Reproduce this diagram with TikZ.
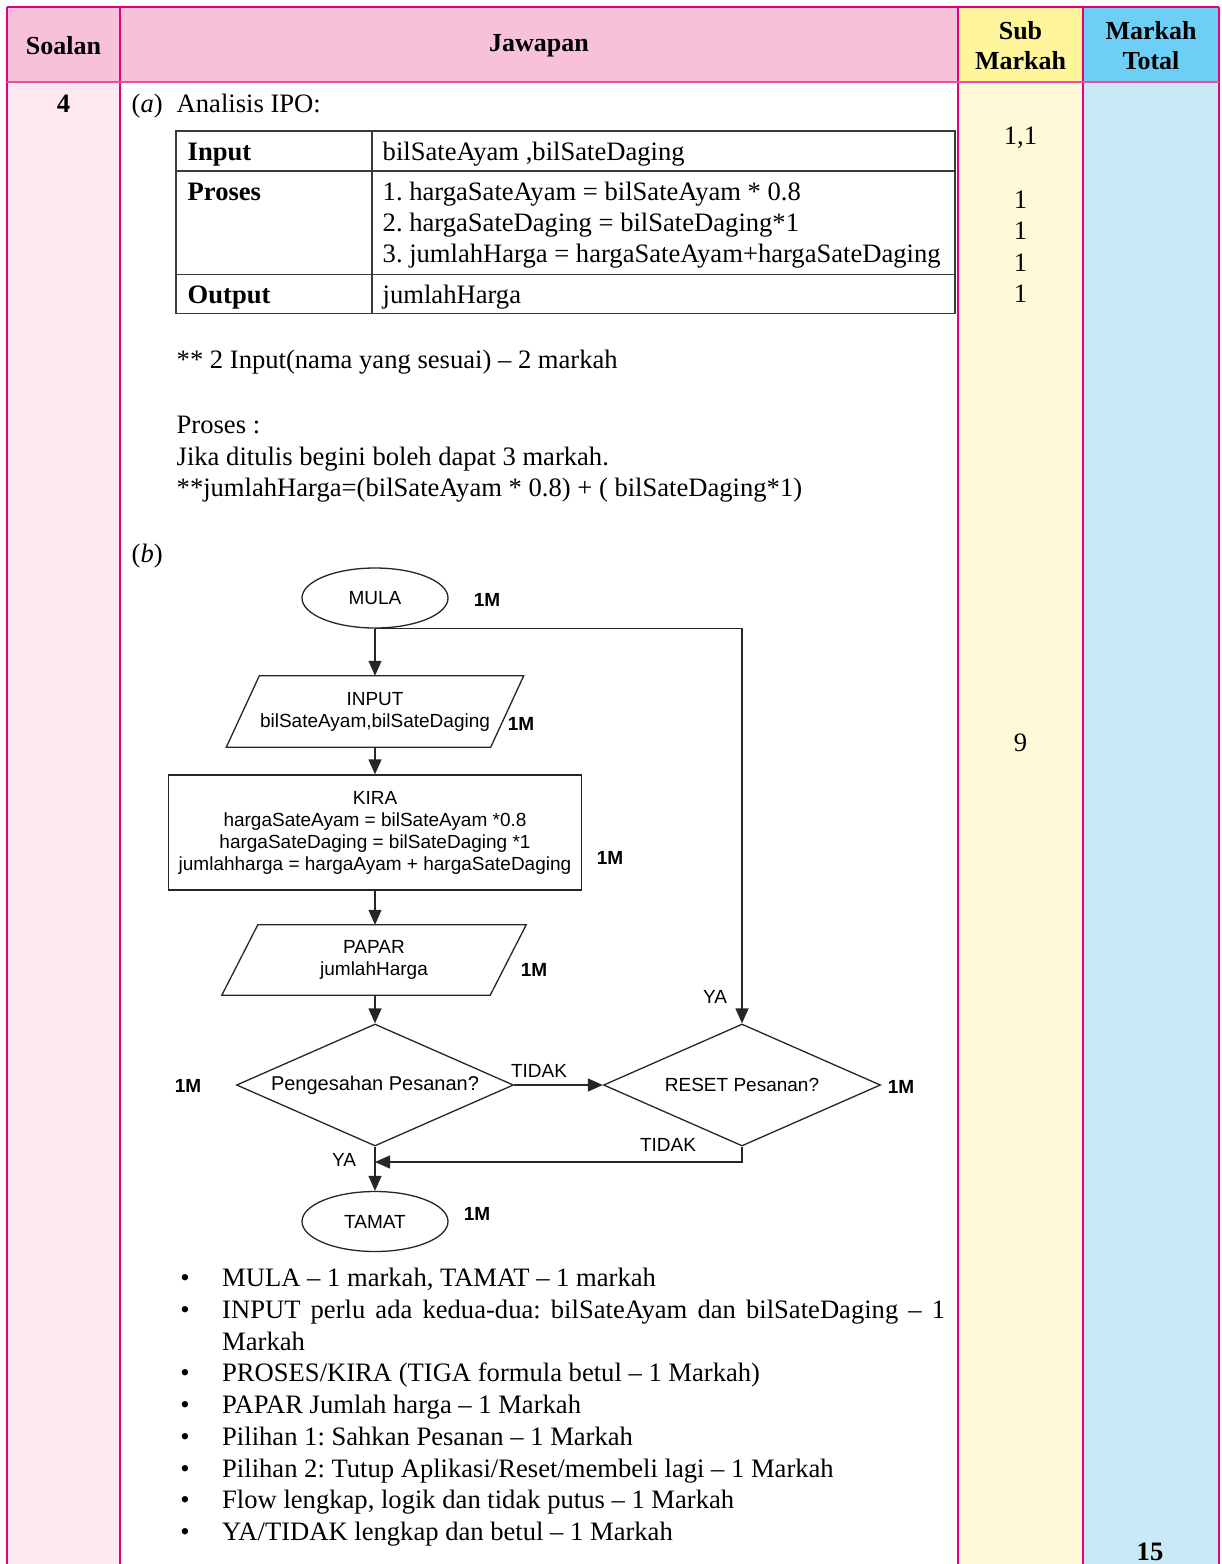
\documentclass[tikz,border=0pt]{standalone}
\usepackage{fontspec}
\setmainfont{Liberation Serif}
\setsansfont{Liberation Sans}
\usetikzlibrary{arrows.meta,shapes.geometric}
\frenchspacing
\definecolor{hpink}{HTML}{F7C1D9}
\definecolor{bpink}{HTML}{FDE7F0}
\definecolor{hyel}{HTML}{FFF69B}
\definecolor{byel}{HTML}{FFF9D9}
\definecolor{hblue}{HTML}{6ECFF6}
\definecolor{bblue}{HTML}{C9E9F8}
\definecolor{mag}{HTML}{E4007F}
\definecolor{mag2}{HTML}{EC4F9F}
\definecolor{tline}{HTML}{3A3A3A}
\begin{document}
\frenchspacing
\begin{tikzpicture}[x=1pt,y=-1pt,
  tx/.style={font=\fontsize{26.6}{31}\selectfont, inner sep=0pt, anchor=base west},
  txb/.style={font=\fontsize{26.6}{31}\selectfont\bfseries, inner sep=0pt, anchor=base west},
  txc/.style={font=\fontsize{26.6}{31}\selectfont, inner sep=0pt, anchor=base},
  hd/.style={font=\fontsize{26}{30}\selectfont\bfseries, align=center, inner sep=0pt},
  fl/.style={line width=1.3pt, draw=black!85},
  arr/.style={fl, -{Triangle[length=15pt,width=13pt]}},
  fct/.style={font=\sffamily\fontsize{19}{22}\selectfont},
  lbl/.style={font=\sffamily\fontsize{19}{22}\selectfont, inner sep=0pt, text height=13.6pt, text depth=0pt},
  mk/.style={font=\sffamily\bfseries\fontsize{19}{22}\selectfont, inner sep=0pt, text height=13.6pt, text depth=0pt},
  grid/.style={line width=1.2pt, draw=mag},
  ipo/.style={line width=1.2pt, draw=tline}
]
\useasboundingbox (0,0) rectangle (1222,1564);
% ---------- backgrounds ----------
\fill[hpink] (7,7) rectangle (958,82);
\fill[hyel] (958,7) rectangle (1083,82);
\fill[hblue] (1083,7) rectangle (1219,82);
\fill[bpink] (7,82) rectangle (120,1564);
\fill[white] (120,82) rectangle (958,1564);
\fill[byel] (958,82) rectangle (1083,1564);
\fill[bblue] (1083,82) rectangle (1219,1564);
% ---------- grid ----------
\draw[grid] (7,7) -- (1219,7);
\foreach \xx in {7,120,958,1083,1219} \draw[grid] (\xx,7) -- (\xx,1564);
\draw[line width=2.6pt, draw=mag2] (7,82) -- (1219,82);
% ---------- header ----------
\node[hd] (hsoal) at (63.5,46) {Soalan};
\node[hd] (hjaw) at (539,46) {Jawapan};
\node[hd] (hsub) at (1020.5,46) {Sub\\Markah};
\node[hd] (htot) at (1151,46) {Markah\\Total};
% ---------- part a ----------
\node[txc, font=\fontsize{26.6}{31}\selectfont\bfseries] (q4) at (63.5,112) {4};
\node[tx] (pa) at (131.5,112) {(\textit{a})};
\node[tx] (pat) at (176.5,112) {Analisis IPO:};
% IPO table
\draw[ipo] (176,131) rectangle (955,313.5);
\draw[ipo] (176,171) -- (955,171);
\draw[ipo] (176,274.5) -- (955,274.5);
\draw[ipo] (372,131) -- (372,313.5);
\node[txb] (ti) at (187.5,160) {Input};
\node[tx] (tiv) at (382.5,160) {bilSateAyam ,bilSateDaging};
\node[txb] (tp) at (187.5,200) {Proses};
\node[tx] (tp1) at (382.5,200) {1. hargaSateAyam = bilSateAyam * 0.8};
\node[tx] (tp2) at (382.5,231) {2. hargaSateDaging = bilSateDaging*1};
\node[tx] (tp3) at (382.5,262) {3. jumlahHarga = hargaSateAyam+hargaSateDaging};
\node[txb] (to) at (187.5,303.3) {Output};
\node[tx] (tov) at (382.5,303.3) {jumlahHarga};
\node[tx] (n1) at (176.5,368) {** 2 Input(nama yang sesuai) – 2 markah};
\node[tx] (n2) at (176.5,433.5) {Proses :};
\node[tx] (n3) at (176.5,465.5) {Jika ditulis begini boleh dapat 3 markah.};
\node[tx] (n4) at (176.5,496.5) {**jumlahHarga=(bilSateAyam * 0.8) + ( bilSateDaging*1)};
% sub markah
\node[txc] (s1) at (1020.5,144) {1,1};
\node[txc] (s2) at (1020.5,208.3) {1};
\node[txc] (s3) at (1020.5,239.3) {1};
\node[txc] (s4) at (1020.5,271.7) {1};
\node[txc] (s5) at (1020.5,302.7) {1};
\node[txc] (s9) at (1020.5,751.5) {9};
\node[txc, font=\fontsize{26.6}{31}\selectfont\bfseries] (tot) at (1150,1560) {15};
% ---------- part b ----------
\node[tx] (pb) at (131.5,562) {(\textit{b})};
% flowchart
\node[fl, draw, ellipse, minimum width=146pt, minimum height=60pt, inner sep=0pt, fct] (mula) at (375,598) {MULA};
\node[fct, minimum width=264pt, minimum height=71pt, align=center, inner sep=0pt] (inp) at (375,711.5) {INPUT\\bilSateAyam,bilSateDaging};
\draw[fl] ([xshift=16.5pt]inp.north west) -- ([xshift=16.5pt]inp.north east) -- ([xshift=-16.5pt]inp.south east) -- ([xshift=-16.5pt]inp.south west) -- cycle;
\node[fl, draw, rectangle, minimum width=413pt, minimum height=115pt, inner sep=0pt, fct, align=center] (kira) at (375,832.5) {KIRA\\hargaSateAyam = bilSateAyam *0.8\\hargaSateDaging = bilSateDaging *1\\jumlahharga = hargaAyam + hargaSateDaging};
\node[fct, minimum width=268pt, minimum height=70pt, align=center, inner sep=0pt] (pap) at (374,960) {PAPAR\\jumlahHarga};
\draw[fl] ([xshift=18pt]pap.north west) -- ([xshift=18pt]pap.north east) -- ([xshift=-18pt]pap.south east) -- ([xshift=-18pt]pap.south west) -- cycle;
\node[fl, draw, diamond, shape aspect=2.3, minimum width=277pt, minimum height=122pt, inner sep=0pt, font=\sffamily\fontsize{20}{23}\selectfont] (pg) at (375,1085) {Pengesahan Pesanan?};
\node[fl, draw, diamond, shape aspect=2.3, minimum width=277pt, minimum height=122pt, inner sep=0pt, fct] (rs) at (742,1085) {RESET Pesanan?};
\node[fl, draw, ellipse, minimum width=146pt, minimum height=60pt, inner sep=0pt, fct] (tamat) at (375,1221.5) {TAMAT};
\coordinate (ret) at (375,1162);
% connectors
\draw[arr] (mula.south) -- (inp.north);
\draw[arr] (inp.south) -- (kira.north);
\draw[arr] (kira.south) -- (kira.south |- pap.north);
\draw[arr] (pap.south -| pg.north) -- (pg.north);
\draw[arr] (mula.south) -| (rs.north);
\draw[arr] (pg.east) -- (rs.west);
\draw[arr] (rs.south) |- (ret);
\draw[arr] (pg.south) -- (tamat.north);
% labels
\node[mk] (m1) at (487,600) {1M};
\node[mk] (m2) at (521,724) {1M};
\node[mk] (m3) at (610,858) {1M};
\node[mk] (m4) at (534,970) {1M};
\node[mk] (m5) at (188,1086) {1M};
\node[mk] (m6) at (901,1087) {1M};
\node[mk] (m7) at (477,1214) {1M};
\node[lbl] (ya1) at (715,997) {YA};
\node[lbl] (td1) at (539,1071) {TIDAK};
\node[lbl] (td2) at (668,1145) {TIDAK};
\node[lbl] (ya2) at (344,1160) {YA};
% ---------- bullets ----------
\foreach \yy/\tt [count=\i] in {
  1286.5/{MULA – 1 markah, TAMAT – 1 markah},
  1318.3/{\makebox[723pt][s]{INPUT perlu ada kedua-dua: bilSateAyam dan bilSateDaging – 1}},
  1381.8/{PROSES/KIRA (TIGA formula betul – 1 Markah)},
  1413.5/{PAPAR Jumlah harga – 1 Markah},
  1445.3/{Pilihan 1: Sahkan Pesanan – 1 Markah},
  1477/{Pilihan 2: Tutup Aplikasi/Reset/membeli lagi – 1 Markah},
  1508.8/{Flow lengkap, logik dan tidak putus – 1 Markah},
  1540.5/{YA/TIDAK lengkap dan betul – 1 Markah}} {
  \node[txc] (bd\i) at (185,\yy) {•};
  \node[tx] (bt\i) at (222,\yy) {\tt};
}
\node[tx] (bt2b) at (222,1350) {Markah};
\end{tikzpicture}
\end{document}
